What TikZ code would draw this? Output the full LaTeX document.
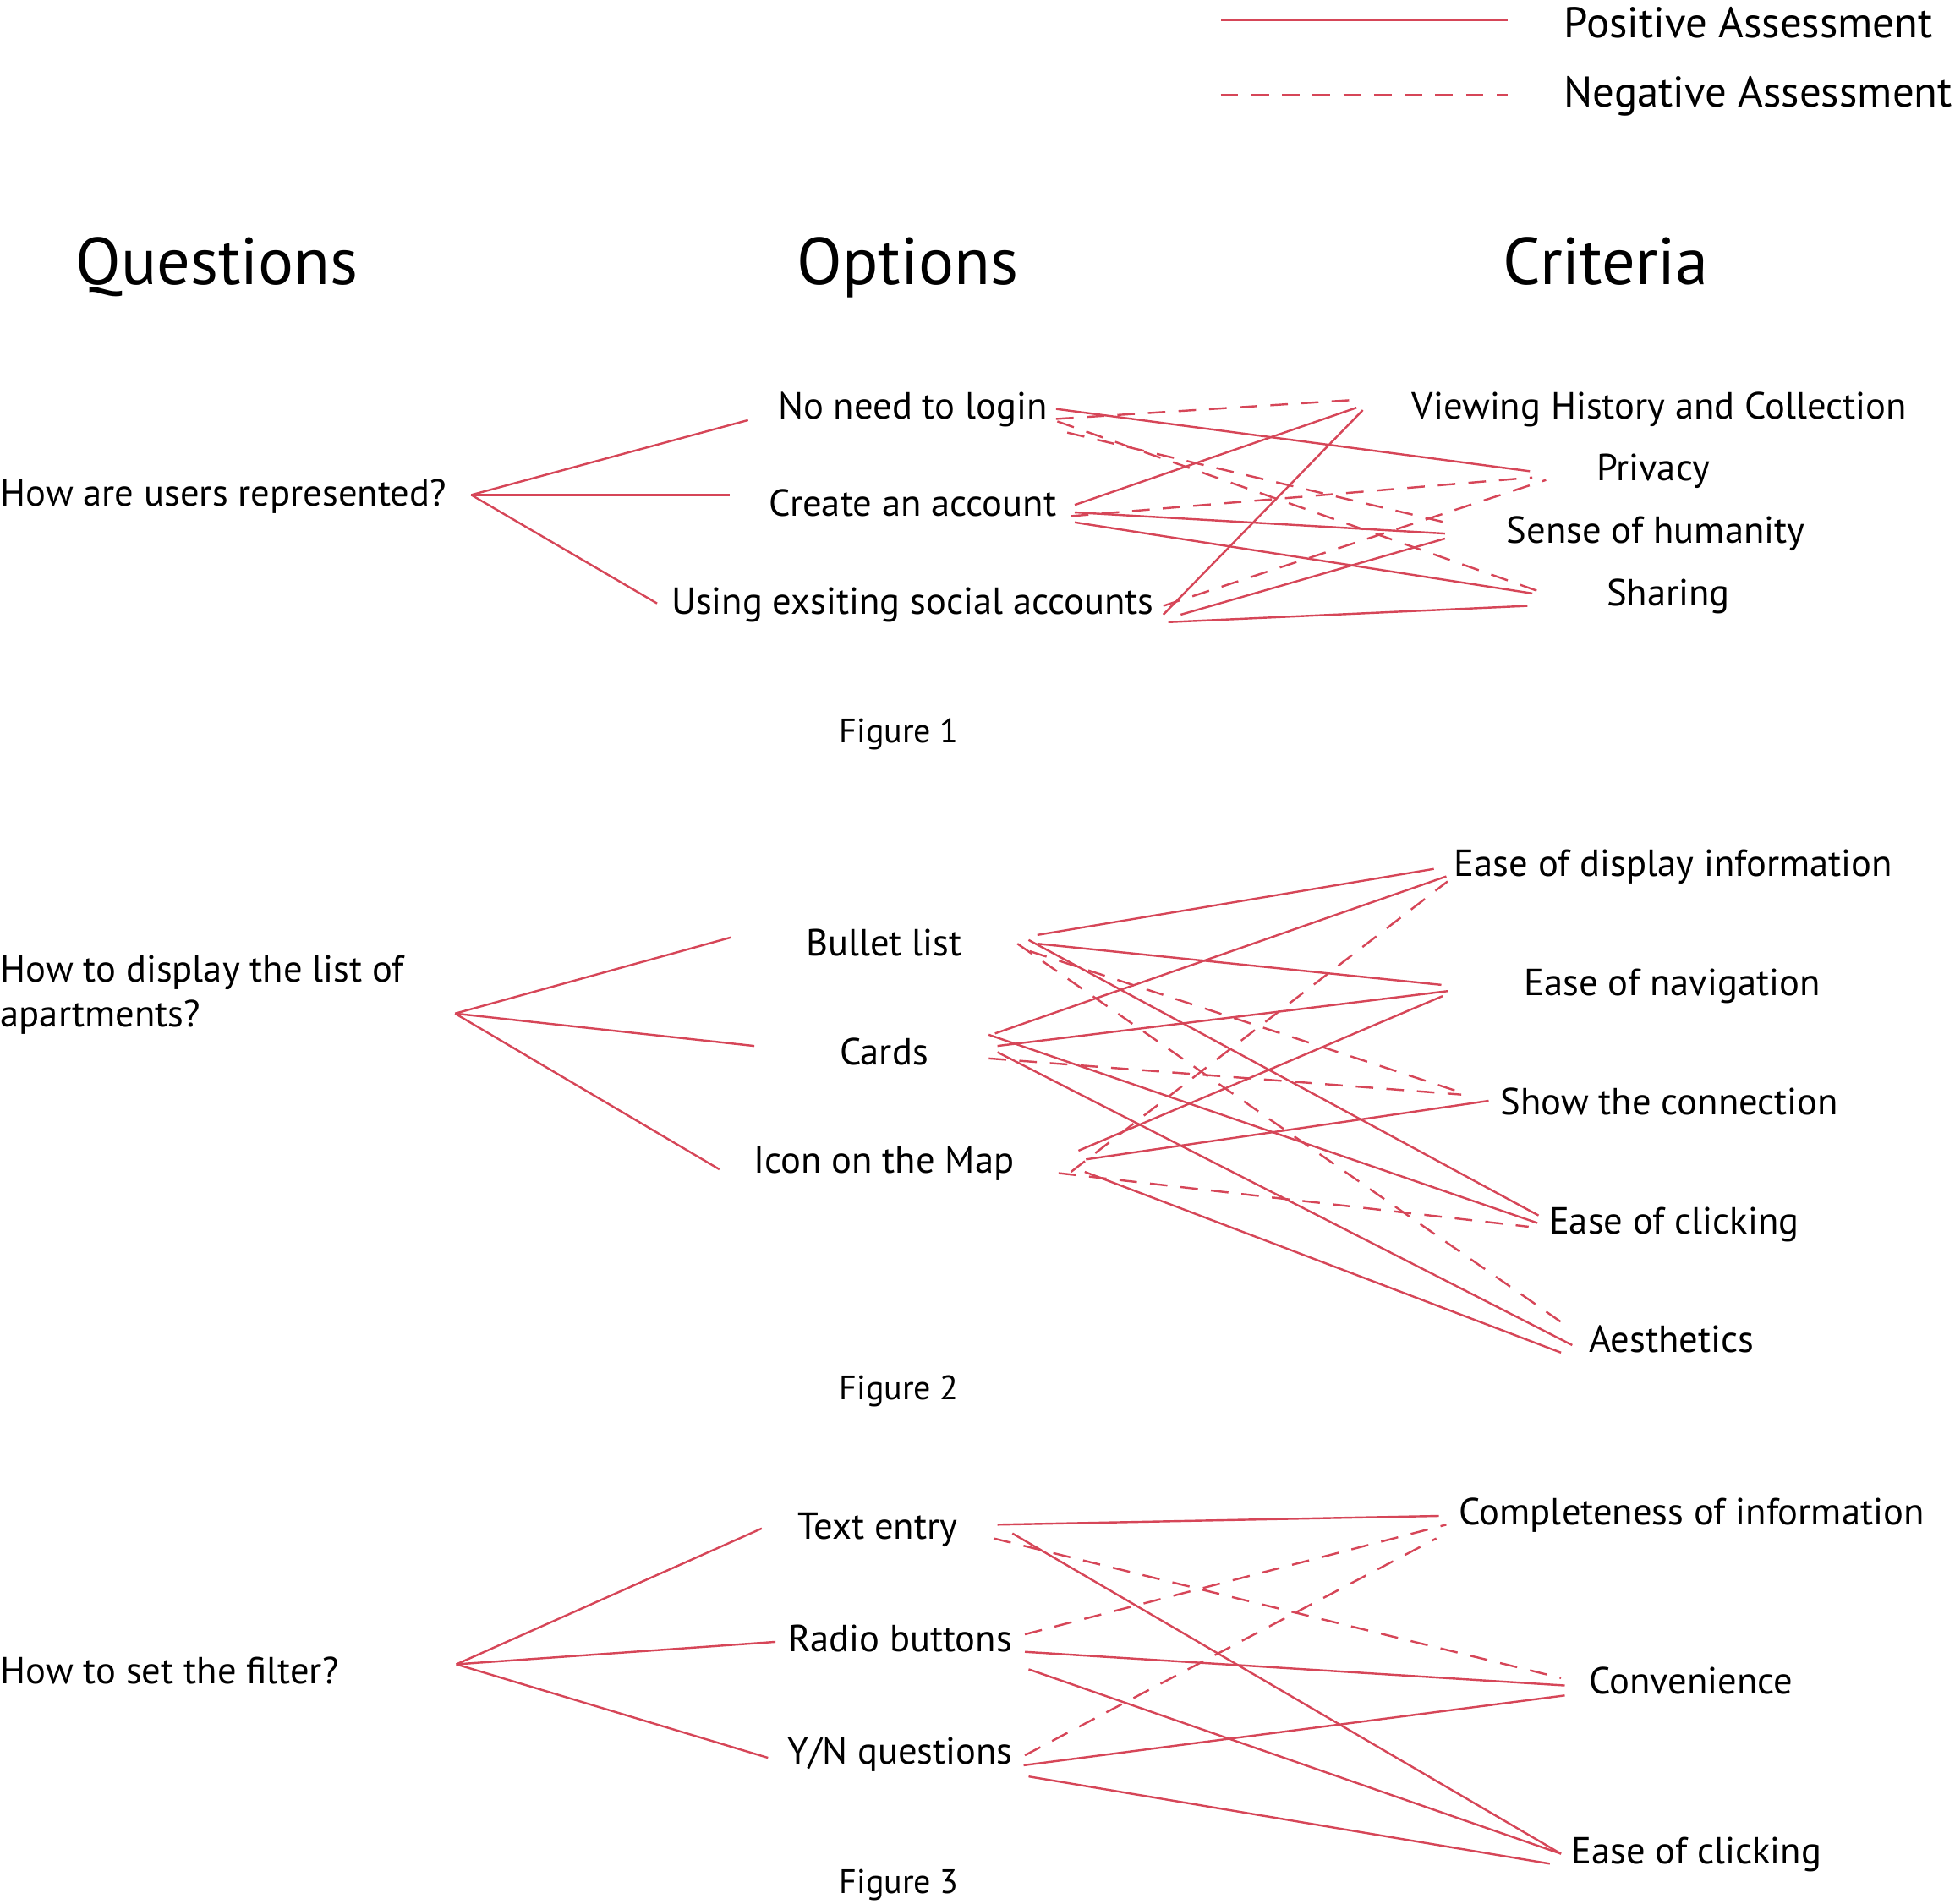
\documentclass[tikz,border=0pt]{standalone}
\usepackage{fontspec}
\setmainfont{PT Sans}
\definecolor{lc}{RGB}{214,70,88}
\begin{document}
\begin{tikzpicture}[x=0.15mm,y=-0.15mm,
  posline/.style={draw=lc,line width=0.7pt},
  negline/.style={draw=lc,line width=0.7pt,dash pattern=on 6pt off 4.5pt},
  hd/.style={font=\fontsize{22.7}{27}\selectfont,inner sep=0,anchor=mid,yshift=-1.4mm},
  txt/.style={font=\fontsize{12.9}{15.3}\selectfont,inner sep=0,anchor=mid,yshift=-0.6mm},
  leg/.style={font=\fontsize{14.7}{17}\selectfont,inner sep=0,anchor=mid west,yshift=-0.75mm},
  figl/.style={font=\fontsize{11.6}{14}\selectfont,inner sep=0,anchor=mid,yshift=-0.45mm}]
\useasboundingbox (0,0) rectangle (1568,1527);

% headers
\node[hd] (HQ) at (174,213) {Questions};
\node[hd] (HO) at (728,213) {Options};
\node[hd] (HC) at (1288,213) {Criteria};

% legend
\coordinate (lp1) at (979,16); \coordinate (lp2) at (1209,16);
\coordinate (ln1) at (979,76); \coordinate (ln2) at (1209,76);
\node[leg] (LP) at (1254,19) {Positive Assessment};
\node[leg] (LN) at (1254,75) {Negative Assessment};
\draw[posline] (lp1) -- (lp2);
\draw[negline] (ln1) -- (ln2);

% ---------- Figure 1 ----------
\node[txt,anchor=mid west] (Q1) at (0,396) {How are users represented?};
\node[txt] (O11) at (732,326) {No need to login};
\node[txt] (O12) at (732,404) {Create an account};
\node[txt] (O13) at (732,483) {Using exsiting social accounts};
\node[txt,anchor=mid west] (C11) at (1132,326) {Viewing History and Collection};
\node[txt] (C12) at (1326,376) {Privacy};
\node[txt] (C13) at (1328,426) {Sense of humanity};
\node[txt] (C14) at (1338,476) {Sharing};
\node[figl] (F1) at (721,587) {Figure 1};

\foreach \n/\x/\y in {qa/378/397, qa1/600/337, qa2/585/397, qa3/527/484,
  l1/847/328, l2/847/336, l3/856/347, l4/848/338,
  p1/1227/378, v1/1083/321, s1/1159/419, h1/1236/475,
  k1/862/405, v2/1088/327, k2/859/414, p2/1229/383,
  k3/862/411, s2/1159/428, k4/862/419, h2/1229/476,
  u1/933/493, v3/1093/329, u2/933/486, p3/1240/385,
  u3/947/493, s3/1159/432, u4/937/499, h3/1225/486}
  \coordinate (\n) at (\x,\y);

\draw[posline] (qa) -- (qa1);
\draw[posline] (qa) -- (qa2);
\draw[posline] (qa) -- (qa3);

\draw[posline] (l1) -- (p1);
\draw[negline] (l2) -- (v1);
\draw[negline] (l3) -- (s1);
\draw[negline] (l4) -- (h1);
\draw[posline] (k1) -- (v2);
\draw[negline] (k2) -- (p2);
\draw[posline] (k3) -- (s2);
\draw[posline] (k4) -- (h2);
\draw[posline] (u1) -- (v3);
\draw[negline] (u2) -- (p3);
\draw[posline] (u3) -- (s3);
\draw[posline] (u4) -- (h3);

% ---------- Figure 2 ----------
\node[txt,anchor=west,align=left] (Q2) at (0,794) {How to display the list of\\apartments?};
\node[txt] (O21) at (709,757) {Bullet list};
\node[txt] (O22) at (709,844) {Cards};
\node[txt] (O23) at (709,931) {Icon on the Map};
\node[txt,anchor=mid west] (C21) at (1166,693) {Ease of display information};
\node[txt,anchor=mid west] (C22) at (1222,789) {Ease of navigation};
\node[txt,anchor=mid west] (C23) at (1203,884) {Show the connection};
\node[txt,anchor=mid west] (C24) at (1242,980) {Ease of clicking};
\node[txt,anchor=mid west] (C25) at (1274,1075) {Aesthetics};
\node[figl] (F2) at (721,1114) {Figure 2};

\foreach \n/\x/\y in {qb/365/813, qb1/586/752, qb2/605/839, qb3/577/938,
  b1/832/750, d1/1150/697, b2/832/757, n1/1156/790,
  b3/825/754, e1/1234/975, b4/816/757, a1/1260/1066,
  b5/826/763, w1/1174/877,
  r1/798/829, d2/1160/703, r2/800/839, n2/1161/795,
  r3/793/830, e2/1233/981, r4/800/844, a2/1261/1079,
  r5/793/849, w2/1172/878,
  m1/865/923, n3/1157/799, m2/871/930, w3/1194/883,
  m3/859/940, d3/1161/707, m4/849/941, e3/1226/984,
  m5/870/940, a3/1252/1085}
  \coordinate (\n) at (\x,\y);

\draw[posline] (qb) -- (qb1);
\draw[posline] (qb) -- (qb2);
\draw[posline] (qb) -- (qb3);

\draw[posline] (b1) -- (d1);
\draw[posline] (b2) -- (n1);
\draw[posline] (b3) -- (e1);
\draw[negline] (b4) -- (a1);
\draw[negline] (b5) -- (w1);
\draw[posline] (r1) -- (d2);
\draw[posline] (r2) -- (n2);
\draw[posline] (r3) -- (e2);
\draw[posline] (r4) -- (a2);
\draw[negline] (r5) -- (w2);
\draw[posline] (m1) -- (n3);
\draw[posline] (m2) -- (w3);
\draw[negline] (m3) -- (d3);
\draw[negline] (m4) -- (e3);
\draw[posline] (m5) -- (a3);

% ---------- Figure 3 ----------
\node[txt,anchor=mid west] (Q3) at (0,1341) {How to set the filter?};
\node[txt] (O31) at (704,1225) {Text entry};
\node[txt] (O32) at (722,1315) {Radio buttons};
\node[txt] (O33) at (722,1405) {Y/N questions};
\node[txt,anchor=mid west] (C31) at (1170,1213) {Completeness of information};
\node[txt,anchor=mid west] (C32) at (1274,1349) {Convenience};
\node[txt,anchor=mid west] (C33) at (1260,1485) {Ease of clicking};
\node[figl] (F3) at (721,1510) {Figure 3};

\foreach \n/\x/\y in {qc/366/1335, qc1/611/1226, qc2/622/1317, qc3/616/1410,
  t1/800/1223, g1/1154/1216, t2/812/1230, z1/1252/1487,
  t3/797/1234, y1/1252/1346,
  o1/822/1311, g2/1160/1223, o2/822/1325, y2/1255/1352,
  o3/825/1339, z2/1252/1487,
  j1/822/1408, g3/1152/1234, j2/821/1416, y3/1255/1360,
  j3/825/1425, z3/1243/1495}
  \coordinate (\n) at (\x,\y);

\draw[posline] (qc) -- (qc1);
\draw[posline] (qc) -- (qc2);
\draw[posline] (qc) -- (qc3);

\draw[posline] (t1) -- (g1);
\draw[posline] (t2) -- (z1);
\draw[negline] (t3) -- (y1);
\draw[negline] (o1) -- (g2);
\draw[posline] (o2) -- (y2);
\draw[posline] (o3) -- (z2);
\draw[negline] (j1) -- (g3);
\draw[posline] (j2) -- (y3);
\draw[posline] (j3) -- (z3);
\end{tikzpicture}
\end{document}
